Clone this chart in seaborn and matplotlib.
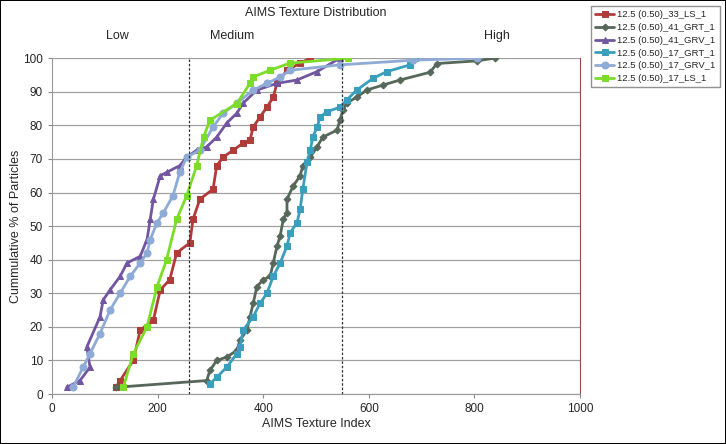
import seaborn as sns
import matplotlib.pyplot as plt
import pandas as pd
import numpy as np

# values (AIMS texture index, cumulative %)
ls33_x = [122, 129, 154, 167, 192, 205, 223, 236, 261, 267, 280, 305, 312, 324, 343, 362, 375, 381, 394, 407, 419, 426, 445, 470, 489]
ls33_y = [2, 4, 10, 19, 22, 31, 34, 42, 45, 52, 58, 61, 68, 70.5, 72.6, 74.7, 75.6, 79.5, 82.5, 85.4, 88.4, 92.5, 96.4, 98.5, 100]

grt41_x = [122, 293, 299, 312, 331, 350, 356, 369, 375, 381, 388, 400, 413, 419, 426, 432, 438, 445, 445, 457, 470, 475, 489, 502, 513, 540, 545, 551, 558, 577, 596, 627, 659, 716, 729, 805, 838]
grt41_y = [2, 4, 7, 10, 11, 13, 16, 19, 23, 27, 32, 34, 35, 39, 44, 47, 52, 54, 58, 62, 65, 68, 70.5, 73.6, 76.5, 78.6, 81.5, 84.5, 86.6, 88.4, 90.5, 92, 93.5, 95.8, 98.4, 99.2, 100]

grv41_x = [28, 53, 72, 66, 91, 97, 110, 129, 142, 167, 180, 186, 192, 205, 217, 242, 255, 274, 293, 312, 331, 350, 362, 388, 426, 464, 502, 545]
grv41_y = [2, 4, 8, 14, 23, 28, 31, 35, 39, 41, 46, 52, 58, 65, 66, 68, 70.5, 72.6, 73.6, 76.5, 80.7, 83.6, 86.6, 90.5, 92.5, 93.5, 96, 100]

grt17_x = [299, 312, 331, 350, 356, 362, 381, 394, 407, 419, 432, 445, 451, 464, 470, 475, 483, 489, 494, 502, 508, 520, 545, 558, 577, 608, 634, 678, 688]
grt17_y = [3, 5, 8, 12, 14, 19, 23, 27, 30, 35, 39, 44, 48, 51, 55, 61, 69, 72.6, 76.5, 79.5, 82.5, 84, 85.4, 87.5, 90.5, 94, 96, 98, 100]

grv17_x = [40, 59, 72, 91, 110, 129, 148, 167, 180, 186, 199, 211, 229, 242, 255, 280, 305, 324, 350, 381, 407, 432, 451, 545, 684, 805]
grv17_y = [2, 8, 12, 18, 25, 30, 35, 39, 42, 46, 51, 54, 59, 66, 70.5, 72.6, 79.5, 83.6, 86.6, 90.5, 92.5, 94.4, 96.4, 98, 99.4, 100]

ls17_x = [135, 154, 180, 199, 217, 236, 255, 274, 287, 299, 350, 375, 381, 413, 450, 560]
ls17_y = [2, 12, 20, 32, 40, 52, 59, 68, 76.5, 81.5, 86.5, 92.5, 94.4, 96.4, 98.5, 100]

names = ["12.5 (0.50)_33_LS_1", "12.5 (0.50)_41_GRT_1", "12.5 (0.50)_41_GRV_1",
         "12.5 (0.50)_17_GRT_1", "12.5 (0.50)_17_GRV_1", "12.5 (0.50)_17_LS_1"]
xs = [ls33_x, grt41_x, grv41_x, grt17_x, grv17_x, ls17_x]
ys = [ls33_y, grt41_y, grv41_y, grt17_y, grv17_y, ls17_y]
colors = ["#b03c3a", "#56685a", "#7256a0", "#3a9fbc", "#8eaad6", "#7cdc2a"]
markers = ["s", "D", "^", "s", "o", "s"]
msizes = [5, 3.5, 5, 5, 5, 5]

sns.set_style("white")
plt.rcParams['font.family'] = ['Liberation Sans', 'DejaVu Sans']

fig = plt.figure(figsize=(7.26, 4.44), dpi=100, linewidth=1.2, edgecolor="black")
ax = fig.add_axes([0.0716, 0.1126, 0.7274, 0.7564])

for name, x, y, c, m, ms in zip(names, xs, ys, colors, markers, msizes):
    df = pd.DataFrame({"x": x, "y": y})
    sns.lineplot(data=df, x="x", y="y", sort=False, estimator=None, ax=ax,
                 color=c, marker=m, markersize=ms, markeredgecolor=c,
                 linewidth=2, label=name)

ax.axvline(260, color="#333333", linestyle=(0, (2, 1.5)), linewidth=0.9)
ax.axvline(550, color="#333333", linestyle=(0, (2, 1.5)), linewidth=0.9)

ax.set_xlim(0, 1000)
ax.set_ylim(0, 100)
ax.set_xticks(np.arange(0, 1001, 200))
ax.set_yticks(np.arange(0, 101, 10))
ax.yaxis.grid(True, color="#a0a0a0", linewidth=0.9)
ax.tick_params(axis="both", labelsize=8.5, length=3, direction="out", color="#888888")
ax.tick_params(axis="both", bottom=True, left=True)
for s in ["left", "bottom"]:
    ax.spines[s].set_color("#999999")
ax.spines["top"].set_visible(False)
ax.spines["right"].set_color("#a04848")

ax.set_xlabel("AIMS Texture Index", fontsize=9, labelpad=2)
ax.set_ylabel("Cummulative % of Particles", fontsize=9, labelpad=1)
ax.set_title("AIMS Texture Distribution", fontsize=9, pad=30)

for lbl, xv in [("Low", 123), ("Medium", 341), ("High", 843)]:
    ax.text(xv, 106.5, lbl, fontsize=9, ha="center", va="center")

leg = ax.legend(loc="upper right", bbox_to_anchor=(0.998, 0.997), bbox_transform=fig.transFigure,
                fontsize=6.8, frameon=True, fancybox=False, edgecolor="#777777",
                handlelength=2.0, borderpad=0.45, labelspacing=0.4, handletextpad=0.35)

fig.savefig("out.png", dpi=100, edgecolor=fig.get_edgecolor())
